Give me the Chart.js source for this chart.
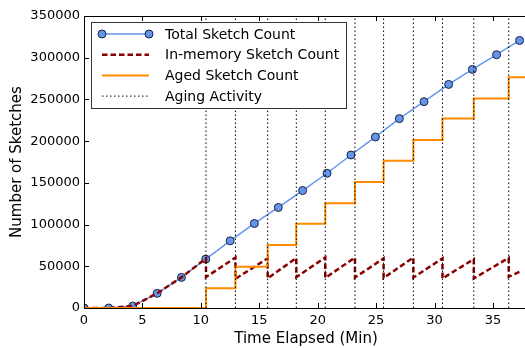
<!DOCTYPE html>
<html>
<head>
<meta charset="utf-8">
<script src="https://cdn.jsdelivr.net/npm/chart.js@4/dist/chart.umd.min.js"></script>
<style>
    html, body { margin: 0; padding: 0; overflow: hidden; background: #fff; }
    #wrap { width: 533px; height: 348px; }
</style>
</head>
<body>
<div id="wrap"><canvas id="chart" width="533" height="348"></canvas></div>
<script>
// total sketch count, sampled every ~2.07 min
const totalTimes = [0, 2.11, 4.17, 6.26, 8.34, 10.42, 12.51, 14.58, 16.63, 18.71,
    20.80, 22.85, 24.94, 26.99, 29.10, 31.21, 33.24, 35.31, 37.28]
const totalCounts = [0, 0, 2400, 17600, 36700, 58600, 80500, 101300, 120500, 140800,
    161500, 183400, 205000, 227000, 247300, 268000, 286000, 303600, 320700]

// aging events and aged sketch count after each
const agingTimes = [10.44, 12.96, 15.72, 18.17, 20.65, 23.19, 25.64, 28.19, 30.68, 33.36, 36.35]
const agedCounts = [23600, 49500, 75500, 101000, 125500, 151000, 176500, 201500, 227000, 251000, 276500]

// in-memory count: before first aging, then peak/trough at every aging event
const memStartTimes = [0, 2.11, 4.17, 6.26, 8.34]
const memStartCounts = [0, 0, 2400, 17600, 36700]
const memPeaks = [59500, 60500, 59500, 60000, 60500, 60500, 59500, 60500, 59500, 58500, 60000]
const memTroughs = [37000, 35000, 35500, 37000, 36000, 36500, 36000, 36500, 35500, 35500, 37400]
const memEndTime = 37.28
const memEndCount = 43400

const xTicks = [0, 5, 10, 15, 20, 25, 30, 35]
const yTicks = [0, 50000, 100000, 150000, 200000, 250000, 300000, 350000]
const X_MAX = 38
const Y_MAX = 350000

const FONT = '"DejaVu Sans", "Liberation Sans", sans-serif'
Chart.defaults.font.family = FONT
Chart.defaults.color = '#000'

let totalPts = totalTimes.map((t, i) => ({ x: t, y: totalCounts[i] }))

let memPts = memStartTimes.map((t, i) => ({ x: t, y: memStartCounts[i] }))
agingTimes.forEach((t, i) => {
    memPts.push({ x: t, y: memPeaks[i] })
    memPts.push({ x: t, y: memTroughs[i] })
})
memPts.push({ x: memEndTime, y: memEndCount })

let agedPts = [{ x: 0, y: 0 }]
agingTimes.forEach((t, i) => agedPts.push({ x: t, y: agedCounts[i] }))
agedPts.push({ x: X_MAX, y: agedCounts[agedCounts.length - 1] })

let agingPts = []
agingTimes.forEach(t => {
    agingPts.push({ x: t, y: 0 })
    agingPts.push({ x: t, y: Y_MAX })
    agingPts.push({ x: t, y: null })
})

// frame + inward ticks like matplotlib
const frameTicks = {
    id: 'frameTicks',
    afterDatasetsDraw(chart) {
        const { ctx, chartArea: a, scales } = chart
        ctx.save()
        ctx.strokeStyle = '#000'
        ctx.lineWidth = 1
        ctx.beginPath()
        ctx.moveTo(a.left + 0.5, a.top + 0.5)
        ctx.lineTo(a.left + 0.5, a.bottom + 0.5)
        ctx.lineTo(a.right, a.bottom + 0.5)
        ctx.moveTo(a.left, a.top + 0.5)
        ctx.lineTo(a.right, a.top + 0.5)
        xTicks.forEach(v => {
            const x = Math.round(scales.x.getPixelForValue(v)) + 0.5
            ctx.moveTo(x, a.bottom); ctx.lineTo(x, a.bottom - 5)
            ctx.moveTo(x, a.top); ctx.lineTo(x, a.top + 5)
        })
        yTicks.forEach(v => {
            const y = Math.round(scales.y.getPixelForValue(v)) + 0.5
            ctx.moveTo(a.left, y); ctx.lineTo(a.left + 5, y)
        })
        ctx.stroke()
        ctx.restore()
    }
}

const legendBox = {
    id: 'legendBox',
    afterDraw(chart) {
        const ctx = chart.ctx
        ctx.save()
        ctx.fillStyle = '#fff'
        ctx.strokeStyle = '#333'
        ctx.lineWidth = 1
        ctx.fillRect(91.5, 22.5, 255, 86)
        ctx.strokeRect(91.5, 22.5, 255, 86)
        chart.data.datasets.forEach((ds, i) => {
            const y = 34 + i * 20.7
            ctx.save()
            ctx.strokeStyle = ds.borderColor
            ctx.lineWidth = ds.borderWidth
            ctx.setLineDash(ds.borderDash || [])
            ctx.beginPath()
            ctx.moveTo(102, y)
            ctx.lineTo(149, y)
            ctx.stroke()
            if (ds.pointRadius) {
                ctx.setLineDash([])
                ;[102, 149].forEach(px => {
                    ctx.beginPath()
                    ctx.arc(px, y, ds.pointRadius, 0, Math.PI * 2)
                    ctx.fillStyle = ds.pointBackgroundColor
                    ctx.fill()
                    ctx.lineWidth = ds.pointBorderWidth
                    ctx.strokeStyle = ds.pointBorderColor
                    ctx.stroke()
                })
            }
            ctx.restore()
            ctx.fillStyle = '#000'
            ctx.font = '14px ' + FONT
            ctx.textBaseline = 'middle'
            ctx.fillText(ds.label, 165, y + 1)
        })
        ctx.restore()
    }
}

new Chart(document.getElementById('chart'), {
    type: 'line',
    data: {
        datasets: [{
            label: 'Total Sketch Count',
            data: totalPts,
            borderColor: '#6495ED',
            borderWidth: 1.5,
            pointRadius: 4,
            pointBackgroundColor: '#6495ED',
            pointBorderColor: '#1c2340',
            pointBorderWidth: 1,
            order: 3
        }, {
            label: 'In-memory Sketch Count',
            data: memPts,
            borderColor: '#8B0000',
            borderWidth: 2.5,
            borderDash: [5.5, 3],
            pointRadius: 0,
            order: 2
        }, {
            label: 'Aged Sketch Count',
            data: agedPts,
            borderColor: '#FF8C00',
            borderWidth: 2,
            stepped: 'before',
            pointRadius: 0,
            order: 1
        }, {
            label: 'Aging Activity',
            data: agingPts,
            borderColor: '#000',
            borderWidth: 1,
            borderDash: [1.5, 2.5],
            pointRadius: 0,
            spanGaps: false,
            order: 0
        }]
    },
    options: {
        responsive: false,
        animation: false,
        devicePixelRatio: 1,
        layout: { padding: { top: 16, left: 0, right: 0, bottom: 0 } },
        plugins: { legend: { display: false }, tooltip: { enabled: false } },
        elements: { line: { tension: 0 } },
        scales: {
            x: {
                type: 'linear',
                min: 0, max: X_MAX,
                grid: { display: false, drawTicks: false },
                border: { display: false },
                ticks: { stepSize: 5, includeBounds: false, padding: 5, maxRotation: 0, font: { size: 13 } },
                title: { display: true, text: 'Time Elapsed (Min)', font: { size: 15 }, padding: { top: 0, bottom: 0 } },
                afterFit: s => { s.height = 40 }
            },
            y: {
                min: 0, max: Y_MAX,
                grid: { display: false, drawTicks: false },
                border: { display: false },
                ticks: { stepSize: 50000, padding: 4, font: { size: 13 }, callback: v => String(v) },
                title: { display: true, text: 'Number of Sketches', font: { size: 15 }, padding: { top: 8, bottom: 0 } },
                afterFit: s => { s.width = 84 }
            }
        }
    },
    plugins: [frameTicks, legendBox]
})
</script>
</body>
</html>
